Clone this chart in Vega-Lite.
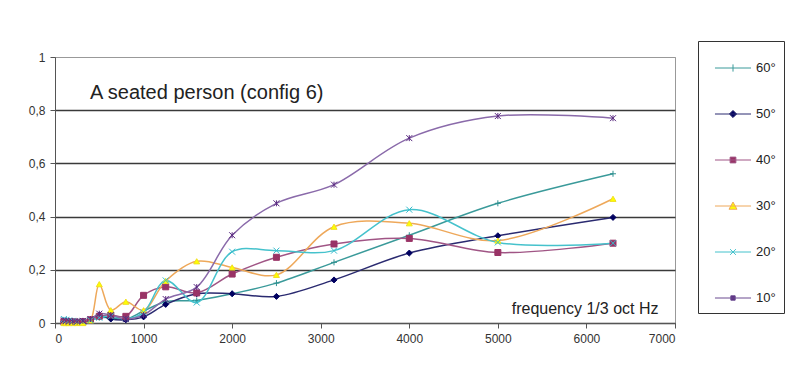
{
  "$schema": "https://vega.github.io/schema/vega-lite/v6.json",
  "width": 620,
  "height": 266,
  "autosize": "none",
  "padding": {"left": 55, "top": 57, "right": 125, "bottom": 69},
  "background": "white",
  "title": {
    "text": "A seated person (config 6)",
    "anchor": "start",
    "frame": "group",
    "orient": "top",
    "offset": 0,
    "dx": 35,
    "dy": 72,
    "baseline": "middle",
    "font": "Liberation Sans",
    "fontSize": 20,
    "fontWeight": "normal",
    "color": "#222"
  },
  "config": {
    "font": "Liberation Sans",
    "view": {"stroke": "#999", "strokeWidth": 1}
  },
  "data": {
    "values": [
      {"f": 100, "60°": 0.005, "50°": 0.005, "40°": 0.005, "30°": 0.0, "20°": 0.015, "10°": 0.01},
      {"f": 125, "60°": 0.005, "50°": 0.005, "40°": 0.005, "30°": 0.0, "20°": 0.012, "10°": 0.008},
      {"f": 160, "60°": 0.004, "50°": 0.004, "40°": 0.004, "30°": 0.0, "20°": 0.01, "10°": 0.006},
      {"f": 200, "60°": 0.004, "50°": 0.005, "40°": 0.004, "30°": 0.0, "20°": 0.008, "10°": 0.005},
      {"f": 250, "60°": 0.004, "50°": 0.005, "40°": 0.003, "30°": 0.0, "20°": 0.006, "10°": 0.005},
      {"f": 315, "60°": 0.006, "50°": 0.006, "40°": 0.005, "30°": 0.0, "20°": 0.006, "10°": 0.008},
      {"f": 400, "60°": 0.01, "50°": 0.012, "40°": 0.012, "30°": 0.01, "20°": 0.01, "10°": 0.015},
      {"f": 500, "60°": 0.02, "50°": 0.03, "40°": 0.025, "30°": 0.146, "20°": 0.02, "10°": 0.035},
      {"f": 630, "60°": 0.02, "50°": 0.015, "40°": 0.03, "30°": 0.048, "20°": 0.025, "10°": 0.03},
      {"f": 800, "60°": 0.015, "50°": 0.012, "40°": 0.025, "30°": 0.08, "20°": 0.015, "10°": 0.015},
      {"f": 1000, "60°": 0.045, "50°": 0.023, "40°": 0.104, "30°": 0.048, "20°": 0.04, "10°": 0.03},
      {"f": 1250, "60°": 0.08, "50°": 0.07, "40°": 0.136, "30°": 0.158, "20°": 0.16, "10°": 0.09},
      {"f": 1600, "60°": 0.085, "50°": 0.11, "40°": 0.113, "30°": 0.232, "20°": 0.077, "10°": 0.135},
      {"f": 2000, "60°": 0.11, "50°": 0.11, "40°": 0.184, "30°": 0.209, "20°": 0.268, "10°": 0.33},
      {"f": 2500, "60°": 0.15, "50°": 0.1, "40°": 0.247, "30°": 0.181, "20°": 0.272, "10°": 0.45},
      {"f": 3150, "60°": 0.228, "50°": 0.162, "40°": 0.297, "30°": 0.362, "20°": 0.272, "10°": 0.52},
      {"f": 4000, "60°": 0.33, "50°": 0.263, "40°": 0.318, "30°": 0.375, "20°": 0.426, "10°": 0.695},
      {"f": 5000, "60°": 0.45, "50°": 0.328, "40°": 0.265, "30°": 0.31, "20°": 0.303, "10°": 0.778},
      {"f": 6300, "60°": 0.561, "50°": 0.397, "40°": 0.3, "30°": 0.467, "20°": 0.3, "10°": 0.77}
    ]
  },
  "transform": [
    {"fold": ["60°", "50°", "40°", "30°", "20°", "10°"], "as": ["series", "v"]}
  ],
  "encoding": {
    "x": {
      "field": "f",
      "type": "quantitative",
      "scale": {"domain": [0, 7000], "nice": false},
      "axis": {
        "values": [0, 1000, 2000, 3000, 4000, 5000, 6000, 7000],
        "format": "d",
        "grid": false,
        "domainColor": "#555",
        "tickColor": "#555",
        "tickSize": 5,
        "labelPadding": 5,
        "labelFontSize": 12,
        "labelColor": "#333",
        "title": "frequency 1/3 oct Hz",
        "titleX": 603,
        "titleY": -15,
        "titleAlign": "right",
        "titleBaseline": "middle",
        "titleFontSize": 16,
        "titleFontWeight": "normal",
        "titleColor": "#222"
      }
    },
    "y": {
      "field": "v",
      "type": "quantitative",
      "scale": {"domain": [0, 1], "nice": false},
      "axis": {
        "values": [0, 0.2, 0.4, 0.6, 0.8, 1],
        "labelExpr": "replace(format(datum.value, '~g'), '.', ',')",
        "title": null,
        "domainColor": "#555",
        "tickColor": "#555",
        "tickSize": 5,
        "labelPadding": 5,
        "labelFontSize": 12,
        "labelColor": "#333",
        "gridColor": {"condition": {"test": "datum.value == 1", "value": "#999"}, "value": "#3a3a3a"},
        "gridWidth": {"condition": {"test": "datum.value == 1", "value": 1}, "value": 1.6}
      }
    }
  },
  "layer": [
    {
      "mark": {"type": "line", "interpolate": "catmull-rom", "strokeWidth": 1.5},
      "encoding": {
        "stroke": {
          "field": "series",
          "type": "nominal",
          "scale": {
            "domain": ["60°", "50°", "40°", "30°", "20°", "10°"],
            "range": ["#3a9a9a", "#2a2a70", "#a05585", "#eea85a", "#45c2cc", "#8a6aaa"]
          },
          "legend": null
        },
        "detail": {"field": "series"}
      }
    },
    {
      "mark": {"type": "point", "filled": true, "strokeWidth": 1, "size": 36, "opacity": 1},
      "encoding": {
        "fill": {
          "field": "series",
          "type": "nominal",
          "scale": {
            "domain": ["60°", "50°", "40°", "30°", "20°", "10°"],
            "range": ["#2f8f8f", "#000060", "#993366", "#ffff00", "#33bbcc", "#5a2a80"]
          },
          "legend": null
        },
        "stroke": {
          "field": "series",
          "type": "nominal",
          "scale": {
            "domain": ["60°", "50°", "40°", "30°", "20°", "10°"],
            "range": ["#2f8f8f", "#000060", "#993366", "#f0e020", "#33bbcc", "#5a2a80"]
          },
          "legend": null
        },
        "shape": {
          "field": "series",
          "type": "nominal",
          "scale": {
            "domain": ["60°", "50°", "40°", "30°", "20°", "10°"],
            "range": [
              "M-1,0H1M0,-1V1",
              "diamond",
              "square",
              "triangle-up",
              "M-1,-1L1,1M-1,1L1,-1",
              "M-1,-1L1,1M-1,1L1,-1M0,-1V1"
            ]
          },
          "legend": null
        }
      }
    },
    {
      "transform": [{"filter": "false"}],
      "mark": {"type": "point", "filled": true, "strokeWidth": 1, "size": 1300, "opacity": 1},
      "encoding": {
        "fill": {
          "field": "series",
          "type": "nominal",
          "scale": {
            "domain": ["60°", "50°", "40°", "30°", "20°", "10°"],
            "range": ["#2f8f8f", "#000060", "#993366", "#ffff00", "#33bbcc", "#5a2a80"]
          },
          "legend": {
            "orient": "none",
            "legendX": 643,
            "legendY": -16,
            "title": null,
            "strokeColor": "#333",
            "fillColor": "white",
            "padding": 8,
            "symbolOffset": 8,
            "rowPadding": 20,
            "symbolSize": 1300,
            "symbolStrokeWidth": 1,
            "labelFontSize": 13,
            "labelColor": "#222",
            "labelOffset": 4,
            "encode": {"legend": {"update": {"strokeWidth": {"value": 1.5}}}}
          }
        },
        "stroke": {
          "field": "series",
          "type": "nominal",
          "scale": {
            "domain": ["60°", "50°", "40°", "30°", "20°", "10°"],
            "range": ["#3a9a9a", "#2a2a70", "#a05585", "#eea85a", "#45c2cc", "#6a4a90"]
          },
          "legend": {
            "orient": "none",
            "legendX": 643,
            "legendY": -16,
            "title": null,
            "strokeColor": "#333",
            "fillColor": "white",
            "padding": 8,
            "symbolOffset": 8,
            "rowPadding": 20,
            "symbolSize": 1300,
            "symbolStrokeWidth": 1,
            "labelFontSize": 13,
            "labelColor": "#222",
            "labelOffset": 4,
            "encode": {"legend": {"update": {"strokeWidth": {"value": 1.5}}}}
          }
        },
        "shape": {
          "field": "series",
          "type": "nominal",
          "scale": {
            "domain": ["60°", "50°", "40°", "30°", "20°", "10°"],
            "range": [
              "M-1,0H1M0,-0.2V0.2",
              "M-1,0H1M-0.2,0L0,-0.2L0.2,0L0,0.2Z",
              "M-1,0H1M-0.16,-0.16H0.16V0.16H-0.16Z",
              "M-1,0H1M-0.22,0.18L0,-0.22L0.22,0.18Z",
              "M-1,0H1M-0.16,-0.16L0.16,0.16M-0.16,0.16L0.16,-0.16",
              "M-1,0H1M-0.12,-0.12H0.12V0.12H-0.12Z"
            ]
          },
          "legend": {
            "orient": "none",
            "legendX": 643,
            "legendY": -16,
            "title": null,
            "strokeColor": "#333",
            "fillColor": "white",
            "padding": 8,
            "symbolOffset": 8,
            "rowPadding": 20,
            "symbolSize": 1300,
            "symbolStrokeWidth": 1,
            "labelFontSize": 13,
            "labelColor": "#222",
            "labelOffset": 4,
            "encode": {"legend": {"update": {"strokeWidth": {"value": 1.5}}}}
          }
        }
      }
    }
  ],
  "resolve": {"scale": {"stroke": "independent", "fill": "independent", "shape": "independent"}}
}
